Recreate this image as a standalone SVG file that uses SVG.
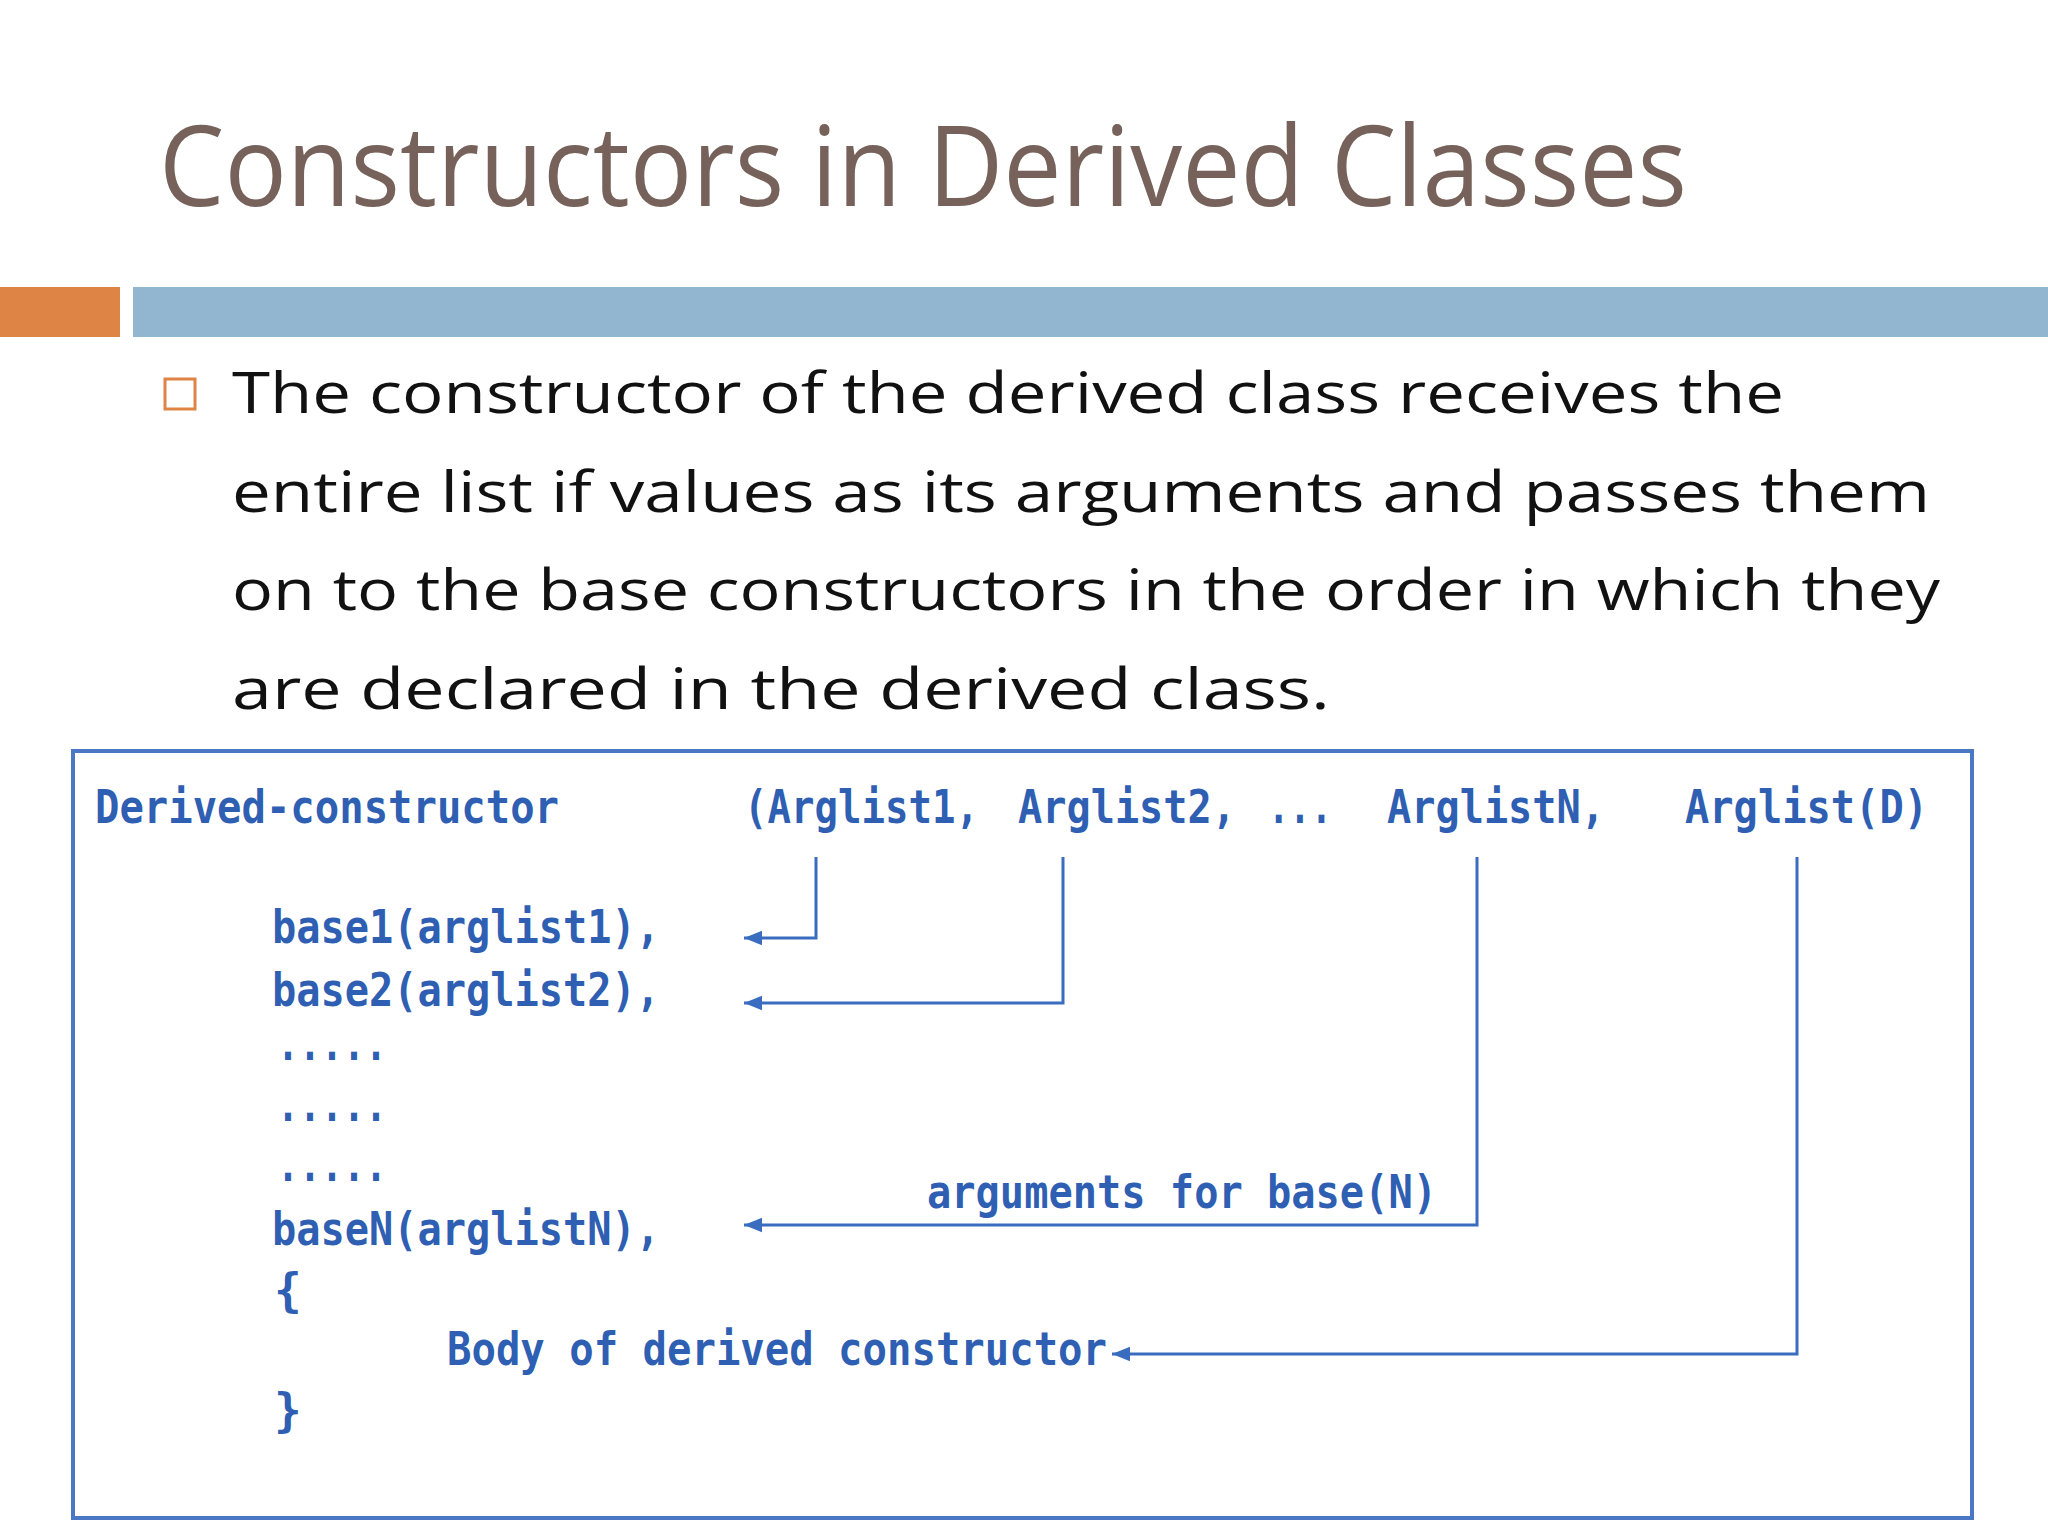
<svg xmlns="http://www.w3.org/2000/svg" width="2048" height="1536" viewBox="0 0 2048 1536">
<defs>
<style>
.title{font-family:"Open Sans","DejaVu Sans",sans-serif;font-size:112px;fill:#76625a}
.body{font-family:"Open Sans","DejaVu Sans",sans-serif;font-size:56px;fill:#111}
.code{font-family:"DejaVu Sans Mono","Liberation Mono",monospace;font-size:46px;font-weight:bold;fill:#2f5fb3}
.ln{fill:none;stroke:#3a6cc0;stroke-width:3}
</style>
<marker id="ah" viewBox="0 0 10 10" refX="10" refY="5" markerWidth="6" markerHeight="6" orient="auto"><path d="M0,1 L10,5 L0,9 z" fill="#3a6cc0"/></marker>
</defs>
<rect width="2048" height="1536" fill="#fff"/>
<text class="title" x="159" y="206" textLength="1528" lengthAdjust="spacingAndGlyphs">Constructors in Derived Classes</text>
<rect x="0" y="287" width="120" height="50" fill="#de8444"/>
<rect x="133" y="287" width="1915" height="50" fill="#93b6d0"/>
<rect x="165" y="379" width="30" height="30" fill="none" stroke="#de8444" stroke-width="3"/>
<g id="bodytext">
<text class="body" x="232" y="413" textLength="1552" lengthAdjust="spacingAndGlyphs">The constructor of the derived class receives the</text>
<text class="body" x="232" y="512" textLength="1698" lengthAdjust="spacingAndGlyphs">entire list if values as its arguments and passes them</text>
<text class="body" x="232" y="610" textLength="1708" lengthAdjust="spacingAndGlyphs">on to the base constructors in the order in which they</text>
<text class="body" x="232" y="709" textLength="1098" lengthAdjust="spacingAndGlyphs">are declared in the derived class.</text>
</g>
<rect id="box" x="73" y="751" width="1899" height="767" fill="none" stroke="#4a78c4" stroke-width="4"/>
<g id="code">
<text class="code" x="95" y="823" textLength="464" lengthAdjust="spacingAndGlyphs">Derived-constructor</text>
<text class="code" x="744" y="823" textLength="235" lengthAdjust="spacingAndGlyphs">(Arglist1,</text>
<text class="code" x="1018" y="823" textLength="218" lengthAdjust="spacingAndGlyphs">Arglist2,</text>
<text class="code" x="1268" y="823" textLength="64" lengthAdjust="spacingAndGlyphs">...</text>
<text class="code" x="1387" y="823" textLength="218" lengthAdjust="spacingAndGlyphs">ArglistN,</text>
<text class="code" x="1685" y="823" textLength="243" lengthAdjust="spacingAndGlyphs">Arglist(D)</text>
<text class="code" x="272" y="943" textLength="388" lengthAdjust="spacingAndGlyphs">base1(arglist1),</text>
<text class="code" x="272" y="1006" textLength="388" lengthAdjust="spacingAndGlyphs">base2(arglist2),</text>
<text class="code" x="277" y="1060" textLength="110" lengthAdjust="spacingAndGlyphs">.....</text>
<text class="code" x="277" y="1121" textLength="110" lengthAdjust="spacingAndGlyphs">.....</text>
<text class="code" x="277" y="1181" textLength="110" lengthAdjust="spacingAndGlyphs">.....</text>
<text class="code" x="272" y="1245" textLength="388" lengthAdjust="spacingAndGlyphs">baseN(arglistN),</text>
<text class="code" x="274" y="1306">{</text>
<text class="code" x="447" y="1365" textLength="660" lengthAdjust="spacingAndGlyphs">Body of derived constructor</text>
<text class="code" x="274" y="1426">}</text>
<text class="code" x="927" y="1208" textLength="510" lengthAdjust="spacingAndGlyphs">arguments for base(N)</text>
</g>
<g id="connectors">
<path class="ln" d="M816,857 V938 H744" marker-end="url(#ah)"/>
<path class="ln" d="M1063,857 V1003 H744" marker-end="url(#ah)"/>
<path class="ln" d="M1477,857 V1225 H744" marker-end="url(#ah)"/>
<path class="ln" d="M1797,857 V1354 H1112" marker-end="url(#ah)"/>
</g>
</svg>
